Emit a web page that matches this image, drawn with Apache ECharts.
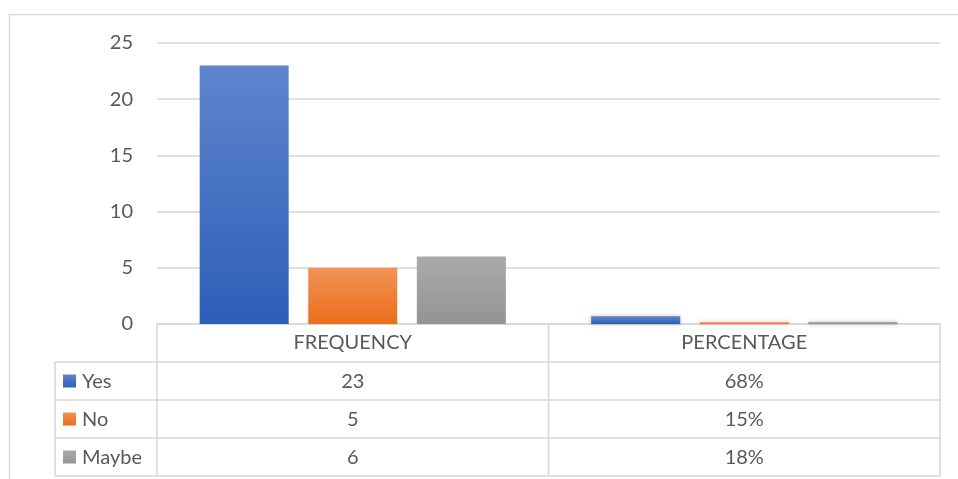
<!DOCTYPE html>
<html>
<head>
<meta charset="utf-8">
<script src="https://cdn.jsdelivr.net/npm/echarts@6/dist/echarts.min.js"></script>
<style>
html,body{margin:0;padding:0;background:#fff;}
#main{width:958px;height:479px;}
</style>
</head>
<body>
<div id="main"></div>
<script>
var categories = ['FREQUENCY', 'PERCENTAGE'];
var seriesNames = ['Yes', 'No', 'Maybe'];
var yesValues = [23, 0.68];
var noValues = [5, 0.15];
var maybeValues = [6, 0.18];
var tableYes = ['23', '68%'];
var tableNo = ['5', '15%'];
var tableMaybe = ['6', '18%'];
var yTicks = [0, 5, 10, 15, 20, 25];

var FONT = 'Lato';
var FS = 20;
var TXT = '#595959';
var LINE = '#d6d6d6';

function grad(top, bottom) {
  return new echarts.graphic.LinearGradient(0, 0, 0, 1, [
    {offset: 0, color: top}, {offset: 1, color: bottom}
  ]);
}
var colors = [
  grad('#5f85cd', '#2d5eb8'),
  grad('#f29457', '#e96d1b'),
  grad('#aaaaaa', '#949494')
];
var swatch = [
  grad('#5f85cd', '#2d5eb8'),
  grad('#f29457', '#e96d1b'),
  grad('#aaaaaa', '#949494')
];
var seriesData = [yesValues, noValues, maybeValues];
var tableRows = [tableYes, tableNo, tableMaybe];

var chart = echarts.init(document.getElementById('main'), null, {renderer: 'canvas'});

var option = {
  animation: false,
  backgroundColor: '#fff',
  textStyle: {fontFamily: FONT},
  grid: {left: 157, right: 18, top: 43, bottom: 155, containLabel: false},
  xAxis: {
    type: 'category',
    data: categories,
    axisLine: {show: true, lineStyle: {color: LINE, width: 1.5}},
    axisTick: {show: false},
    axisLabel: {color: TXT, fontSize: FS, fontFamily: FONT, margin: 9}
  },
  yAxis: {
    type: 'value',
    min: yTicks[0],
    max: yTicks[yTicks.length - 1],
    interval: 5,
    axisLine: {show: false},
    axisTick: {show: false},
    axisLabel: {color: TXT, fontSize: FS, fontFamily: FONT, margin: 24},
    splitLine: {lineStyle: {color: LINE, width: 1.5}}
  },
  series: seriesNames.map(function (n, i) {
    return {
      name: n,
      type: 'bar',
      data: seriesData[i],
      barWidth: 89,
      barGap: '22%',
      itemStyle: {
        color: colors[i],
        shadowBlur: 4,
        shadowColor: 'rgba(0,0,0,0.28)',
        shadowOffsetX: 0,
        shadowOffsetY: 0
      }
    };
  })
};
chart.setOption(option);

// Build data table aligned with the axis
var gridRect = chart.getModel().getComponent('grid').coordinateSystem.getRect();
var x0 = gridRect.x, x1 = gridRect.x + gridRect.width;
var yAxis0 = gridRect.y + gridRect.height;
var rowH = 38;
var leftX = 55;
var c0 = chart.convertToPixel({xAxisIndex: 0}, categories[0]);
var c1 = chart.convertToPixel({xAxisIndex: 0}, categories[1]);
var midX = (c0 + c1) / 2;
var rowTops = [yAxis0 + rowH, yAxis0 + 2 * rowH, yAxis0 + 3 * rowH];
var bottomY = yAxis0 + 4 * rowH;
var g = [];
function hline(xa, xb, y) {
  g.push({type: 'line', shape: {x1: xa, y1: y, x2: xb, y2: y}, style: {stroke: LINE, lineWidth: 1.5}, silent: true});
}
function vline(x, ya, yb) {
  g.push({type: 'line', shape: {x1: x, y1: ya, x2: x, y2: yb}, style: {stroke: LINE, lineWidth: 1.5}, silent: true});
}
// outer chart border
g.push({type: 'rect', shape: {x: 9.5, y: 14.5, width: 1000, height: 500}, style: {fill: 'none', stroke: '#d9d9d9', lineWidth: 1.5}, silent: true});
rowTops.forEach(function (y) { hline(leftX, x1, y); });
hline(leftX, x1, bottomY);
vline(leftX, rowTops[0], bottomY);
vline(x0, yAxis0, bottomY);
vline(midX, yAxis0, bottomY);
vline(x1, yAxis0, bottomY);
var font = FS + 'px "' + FONT + '"';
seriesNames.forEach(function (n, i) {
  var cy = rowTops[i] + rowH / 2;
  g.push({type: 'rect', shape: {x: 63, y: cy - 6.5, width: 13, height: 13}, style: {fill: swatch[i]}, silent: true});
  g.push({type: 'text', x: 82, y: cy + 1, style: {text: n, fill: TXT, font: font, textVerticalAlign: 'middle', verticalAlign: 'middle', textAlign: 'left', align: 'left'}, silent: true});
  [c0, c1].forEach(function (cx, j) {
    g.push({type: 'text', x: cx, y: cy + 1, style: {text: tableRows[i][j], fill: TXT, font: font, textVerticalAlign: 'middle', verticalAlign: 'middle', textAlign: 'center', align: 'center'}, silent: true});
  });
});
chart.setOption({graphic: {elements: g}});
</script>
</body>
</html>
